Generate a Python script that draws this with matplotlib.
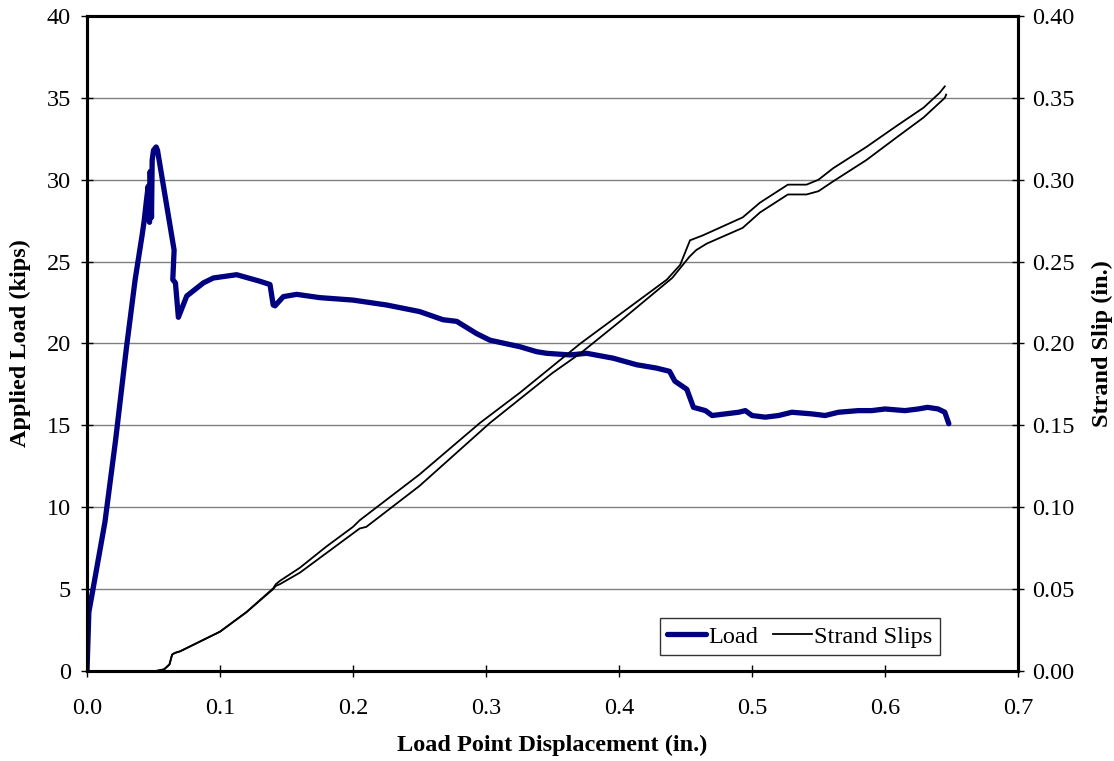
import numpy as np
import matplotlib.pyplot as plt
from matplotlib.ticker import FormatStrFormatter

plt.rcParams['font.family'] = ['Liberation Serif', 'DejaVu Serif']

# load vs. load point displacement
disp_load = [0.0, 0.0014, 0.0054, 0.0135, 0.0215, 0.0296, 0.0362, 0.0416, 0.043, 0.0445,
             0.046, 0.047, 0.0475, 0.0485, 0.049, 0.050, 0.052, 0.053, 0.0655, 0.0645,
             0.0665, 0.0687, 0.075, 0.0875, 0.095, 0.1125, 0.130, 0.1376, 0.1400, 0.1414,
             0.1476, 0.1576, 0.175, 0.200, 0.2253, 0.250, 0.2677, 0.278, 0.293, 0.303,
             0.3256, 0.338, 0.3456, 0.3632, 0.3757, 0.3957, 0.4133, 0.428, 0.438, 0.442,
             0.451, 0.456, 0.465, 0.470, 0.490, 0.495, 0.500, 0.510, 0.520, 0.530,
             0.545, 0.555, 0.565, 0.580, 0.590, 0.600, 0.615, 0.625, 0.632, 0.640,
             0.645, 0.648]
load = [0.0, 3.6, 5.4, 9.1, 14.1, 19.7, 23.9, 26.7, 27.5, 28.6,
        29.6, 27.4, 30.5, 27.7, 31.2, 31.8, 32.0, 31.8, 25.7, 23.9,
        23.7, 21.6, 22.9, 23.7, 24.0, 24.2, 23.8, 23.6, 22.35, 22.3,
        22.86, 23.0, 22.8, 22.65, 22.35, 21.95, 21.45, 21.35, 20.6, 20.2,
        19.8, 19.5, 19.4, 19.3, 19.4, 19.1, 18.7, 18.5, 18.3, 17.7,
        17.2, 16.1, 15.9, 15.6, 15.8, 15.9, 15.6, 15.5, 15.6, 15.8,
        15.7, 15.6, 15.8, 15.9, 15.9, 16.0, 15.9, 16.0, 16.1, 16.0,
        15.8, 15.1]

# strand slips (two strands)
disp_slip1 = [0.0, 0.052, 0.058, 0.062, 0.064, 0.066, 0.070, 0.080, 0.100, 0.120,
              0.140, 0.142, 0.145, 0.160, 0.180, 0.200, 0.205, 0.250, 0.2955, 0.3256,
              0.371, 0.436, 0.446, 0.4534, 0.463, 0.493, 0.506, 0.527, 0.541, 0.550,
              0.561, 0.586, 0.609, 0.629, 0.641, 0.645]
slip1 = [0.0, 0.0, 0.001, 0.004, 0.010, 0.011, 0.012, 0.016, 0.024, 0.036,
         0.0505, 0.053, 0.055, 0.063, 0.076, 0.088, 0.092, 0.120, 0.1515, 0.170,
         0.200, 0.239, 0.248, 0.263, 0.266, 0.277, 0.286, 0.297, 0.297, 0.300,
         0.307, 0.320, 0.333, 0.344, 0.353, 0.357]

disp_slip2 = [0.0, 0.052, 0.058, 0.062, 0.064, 0.066, 0.070, 0.080, 0.100, 0.120,
              0.140, 0.142, 0.145, 0.160, 0.180, 0.205, 0.210, 0.250, 0.303, 0.350,
              0.371, 0.400, 0.440, 0.453, 0.458, 0.466, 0.493, 0.506, 0.527, 0.541,
              0.550, 0.561, 0.586, 0.609, 0.629, 0.645, 0.646]
slip2 = [0.0, 0.0, 0.001, 0.004, 0.010, 0.011, 0.012, 0.016, 0.024, 0.036,
         0.050, 0.052, 0.053, 0.060, 0.072, 0.087, 0.088, 0.113, 0.1515, 0.182,
         0.194, 0.213, 0.240, 0.253, 0.257, 0.261, 0.2706, 0.280, 0.291, 0.291,
         0.293, 0.299, 0.312, 0.326, 0.338, 0.350, 0.352]

fs = 17.5

fig = plt.figure(figsize=(11.14, 7.61), dpi=100)
ax = fig.add_axes([0.0781, 0.1183, 0.8357, 0.8607])
ax2 = ax.twinx()

ln_load, = ax.plot(disp_load, load, color='#000080', lw=3.8, solid_joinstyle='round',
                   solid_capstyle='round', label='Load')
ln_slip, = ax2.plot(disp_slip1, slip1, color='black', lw=1.3, label='Strand Slips')
ax2.plot(disp_slip2, slip2, color='black', lw=1.3)

ax.set_xlim(0, 0.7)
ax.set_ylim(0, 40)
ax2.set_ylim(0, 0.40)
ax.set_xticks(np.arange(0, 0.71, 0.1))
ax.set_yticks(np.arange(0, 41, 5))
ax2.set_yticks(np.arange(0, 0.41, 0.05))
ax.xaxis.set_major_formatter(FormatStrFormatter('%.1f'))
ax2.yaxis.set_major_formatter(FormatStrFormatter('%.2f'))

ax.yaxis.grid(True, color='#808080', lw=1.0)
ax.set_axisbelow(True)

for a in (ax, ax2):
    for s in a.spines.values():
        s.set_linewidth(2.2)
    a.tick_params(direction='inout', length=9, width=1.0, labelsize=fs, colors='black')
ax.tick_params(axis='x', pad=15)
ax.tick_params(axis='y', pad=7)
ax2.tick_params(axis='y', pad=6)

ax.set_xlabel('Load Point Displacement (in.)', fontsize=fs, fontweight='bold', labelpad=11)
ax.set_ylabel('Applied Load (kips)', fontsize=fs, fontweight='bold', labelpad=11)
ax2.set_ylabel('Strand Slip (in.)', fontsize=fs, fontweight='bold', labelpad=12)

leg = ax2.legend(handles=[ln_load, ln_slip], loc='lower right', ncol=2, fontsize=fs,
                 bbox_to_anchor=(0.916, 0.0244), frameon=True, fancybox=False,
                 edgecolor='black', handlelength=1.6, handletextpad=0.1,
                 columnspacing=0.6, borderpad=0.3, borderaxespad=0)
leg.get_frame().set_linewidth(1.0)

fig.savefig('out.png', dpi=100)
